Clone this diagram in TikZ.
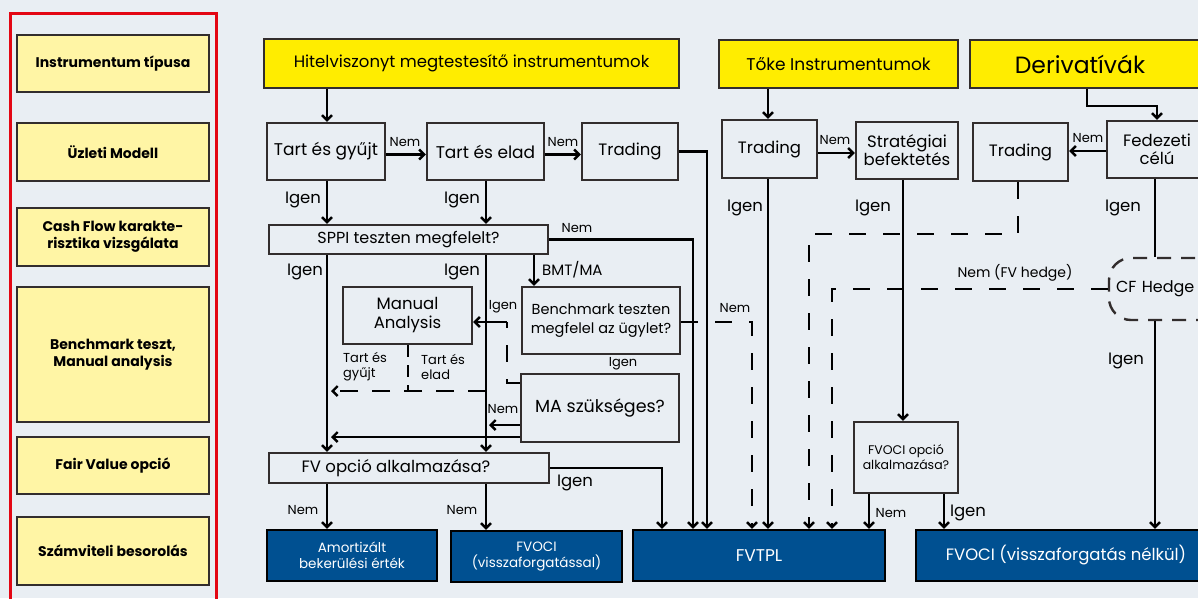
\documentclass[tikz,border=0pt]{standalone}
\usepackage{fontspec}
\setmainfont{Poppins}
\usetikzlibrary{arrows.meta,calc}
\definecolor{bg}{RGB}{233,238,243}
\definecolor{bdr}{RGB}{50,45,45}
\definecolor{yel}{RGB}{255,237,0}
\definecolor{pyel}{RGB}{255,245,165}
\definecolor{dblue}{RGB}{0,80,145}
\definecolor{fred}{RGB}{227,6,19}
\tikzset{
  box/.style={draw=bdr, line width=2.4pt, inner sep=0pt, align=center, font=\fontsize{16}{18}\selectfont},
  ybox/.style={box, fill=yel},
  lbox/.style={box, fill=pyel, font=\fontsize{14}{17}\selectfont\bfseries},
  bbox/.style={draw=black, line width=2.4pt, inner sep=0pt, align=center, fill=dblue, text=white, font=\fontsize{13.5}{16}\selectfont},
  conn/.style={line width=2.4pt, draw=black},
  arr/.style={conn, -{Straight Barb[length=5pt,width=10pt]}},
  dsh/.style={dash pattern=on 17pt off 17pt},
  lblig/.style={inner sep=0pt, font=\fontsize{16.5}{19}\selectfont},
  lblsm/.style={inner sep=0pt, font=\fontsize{13}{15}\selectfont, align=left},
}
\begin{document}
\begin{tikzpicture}[x=1pt,y=-1pt]
\fill[bg] (0,0) rectangle (1198,598);
\useasboundingbox (0,0) rectangle (1198,598);
% left frame
\draw[fred, line width=3pt] (10,13) rectangle (216,640);
\node[lbox, minimum width=192pt, minimum height=57pt] (L1) at (113,63.5) {Instrumentum típusa};
\node[lbox, minimum width=192pt, minimum height=58pt] (L2) at (113,152) {Üzleti Modell};
\node[lbox, minimum width=192pt, minimum height=58pt] (L3) at (113,237) {Cash Flow karakte-\\risztika vizsgálata};
\node[lbox, minimum width=192pt, minimum height=135pt] (L4) at (113,354.5) {Benchmark teszt,\\Manual analysis};
\node[lbox, minimum width=192pt, minimum height=57pt] (L5) at (113,465.5) {Fair Value opció};
\node[lbox, minimum width=192pt, minimum height=68pt] (L6) at (113,551) {Számviteli besorolás};

% column / row helper coordinates
\foreach \c in {327,331,408,486,489,507,534,662,693,707,752,768,809,832,869,903,944,1018,1087,1155,1157}{\coordinate (x\c) at (\c,0);}
\foreach \r in {106,151,153,234,322,383,391,425,437}{\coordinate (y\r) at (0,\r);}

% top boxes
\node[ybox, minimum width=415pt, minimum height=49pt, font=\fontsize{16.5}{18}\selectfont] (hitel) at (471.5,63.5) {Hitelviszonyt megtestesítő instrumentumok};
\node[ybox, minimum width=239pt, minimum height=48pt, font=\fontsize{17}{18}\selectfont] (toke) at (838.5,64) {Tőke Instrumentumok};
\node[ybox, minimum width=260pt, minimum height=48pt, font=\fontsize{23.5}{26}\selectfont] (deriv) at (1100,64) {\kern-40pt Derivatívák};

% second row
\node[box, minimum width=118pt, minimum height=57pt, font=\fontsize{17}{18}\selectfont] (tgy) at (326,151.5) {Tart és gyűjt};
\node[box, minimum width=117pt, minimum height=57pt, font=\fontsize{17}{18}\selectfont] (tel) at (485.5,151.5) {Tart és elad};
\node[box, minimum width=96pt, minimum height=57pt, font=\fontsize{16.5}{18}\selectfont] (trd1) at (630,151.5) {Trading};
\node[box, minimum width=95pt, minimum height=58pt, font=\fontsize{16.5}{18}\selectfont] (trd2) at (769.5,149) {Trading};
\node[box, minimum width=102pt, minimum height=57pt, font=\fontsize{16.5}{18}\selectfont] (strat) at (907,150.5) {Stratégiai\\befektetés};
\node[box, minimum width=95pt, minimum height=58pt, font=\fontsize{16.5}{18}\selectfont] (trd3) at (1020.5,152) {Trading};
\node[box, minimum width=100pt, minimum height=57pt, font=\fontsize{16.5}{18}\selectfont] (fed) at (1157,149.5) {Fedezeti\\célú};

% middle
\node[box, minimum width=279pt, minimum height=29pt, font=\fontsize{16}{18}\selectfont] (sppi) at (408.5,239.5) {SPPI teszten megfelelt?};
\node[box, minimum width=129pt, minimum height=57pt, font=\fontsize{16.5}{19}\selectfont] (MAn) at (407.5,315.5) {Manual\\Analysis};
\node[box, minimum width=158pt, minimum height=67pt, font=\fontsize{14.5}{19}\selectfont] (bench) at (601,320.5) {Benchmark teszten\\megfelel az ügylet?};
\node[box, minimum width=158pt, minimum height=68pt, font=\fontsize{17.5}{19}\selectfont] (mas) at (600,408) {MA szükséges?};
\node[box, minimum width=280pt, minimum height=30pt, font=\fontsize{16.5}{18}\selectfont] (fvo) at (409,468) {\kern-26pt FV opció alkalmazása?};
\node[box, minimum width=104pt, minimum height=71pt, font=\fontsize{12.5}{15}\selectfont] (fvop) at (906,457.5) {FVOCI opció\\alkalmazása?};
\node[box, dashed, dash pattern=on 14pt off 10pt, rounded corners=22pt, minimum height=62pt, text width=118pt, inner xsep=7pt, align=left, font=\fontsize{16}{19}\selectfont] (cfh) at (1175,289) {CF Hedge};

% bottom
\node[bbox, minimum width=170pt, minimum height=51pt] (amort) at (352,555.5) {Amortizált\\bekerülési érték};
\node[bbox, minimum width=171pt, minimum height=51pt] (fvoci1) at (536.5,556.5) {FVOCI\\(visszaforgatással)};
\node[bbox, minimum width=252pt, minimum height=51pt, font=\fontsize{17}{18}\selectfont] (fvtpl) at (759,555.5) {FVTPL};
\node[bbox, minimum width=300pt, minimum height=51pt, font=\fontsize{16.5}{18}\selectfont] (fvoci2) at (1066,555.5) {FVOCI (visszaforgatás nélkül)};

% connectors: debt instruments
\draw[arr] (hitel.south -| x327) -- (tgy.north -| x327);
\draw[arr] ([yshift=-3pt]tgy.east) -- ([yshift=-3pt]tel.west);
\draw[arr] ([yshift=-3pt]tel.east) -- ([yshift=-3pt]trd1.west);
\draw[arr] (trd1.east) -| (fvtpl.north -| x707);
\draw[arr] (tgy.south -| x327) -- (sppi.north -| x327);
\draw[arr] (tel.south -| x486) -- (sppi.north -| x486);
\draw[arr] (sppi.east) -| (fvtpl.north -| x693);
\draw[arr] (sppi.south -| x327) -- (fvo.north -| x327);
\draw[arr] (sppi.south -| x486) -- (fvo.north -| x486);
\draw[arr] (sppi.south -| x534) -- (bench.north -| x534);
\draw[arr,dsh] (bench.east |- y322) -| (fvtpl.north -| x752);
\coordinate (mabend) at (507,322);
\draw[conn,dsh] (mas.west |- y383) -| (mabend);
\draw[arr] (mabend) -- (MAn.east |- mabend);
\draw[arr] (mas.west |- y425) -- (x489 |- y425);
\draw[arr] (mas.west |- y437) -- (x331 |- y437);
\draw[conn,dash pattern=on 12pt off 8pt] (MAn.south -| x408) -- (x408 |- y391);
\draw[arr,dash pattern=on 18pt off 14pt] (x486 |- y391) -- (x331 |- y391);
\draw[arr] (fvo.east) -| (fvtpl.north -| x662);
\draw[arr] (fvo.south -| x327) -- (amort.north -| x327);
\draw[arr] (fvo.south -| x486) -- (fvoci1.north -| x486);
% equity
\draw[arr] (toke.south -| x768) -- (trd2.north -| x768);
\draw[arr] (trd2.east |- y153) -- (strat.west |- y153);
\draw[arr] (trd2.south -| x768) -- (fvtpl.north -| x768);
\draw[arr] (strat.south -| x903) -- (fvop.north -| x903);
\draw[arr] (fvop.south -| x869) -- (fvtpl.north -| x869);
\draw[arr] (fvop.south -| x944) -- (fvoci2.north -| x944);
% derivatives
\draw[arr] (deriv.south -| x1087) -- (x1087 |- y106) -| (fed.north -| x1157);
\draw[arr] (fed.west |- y151) -- (trd3.east |- y151);
\draw[conn] (fed.south -| x1155) -- (cfh.north -| x1155);
\draw[arr] (cfh.south -| x1155) -- (fvoci2.north -| x1155);
\draw[arr,dsh] (trd3.south -| x1018) |- (x809 |- y234) -- (fvtpl.north -| x809);
\draw[arr,dsh] (cfh.west) -| (fvtpl.north -| x832);

% labels
\node[lblsm] (n1) at (405,142) {Nem};
\node[lblsm] (n2) at (563,142) {Nem};
\node[lblsm] (n3) at (577,228) {Nem};
\node[lblsm] (n4) at (735,308) {Nem};
\node[lblsm] (n5) at (835,140) {Nem};
\node[lblsm] (n6) at (1088,138) {Nem};
\node[lblsm] (n7) at (503,409) {Nem};
\node[lblsm] (n8) at (891,513) {Nem};
\node[lblsm] (n9) at (303,510) {Nem};
\node[lblsm] (n10) at (462,510) {Nem};
\node[lblsm] (i1) at (503,307) {Igen};
\node[lblsm] (i2) at (623,364) {Igen};
\node[lblsm, anchor=west, font=\fontsize{15}{17}\selectfont] (bmt) at (542,270) {BMT/MA};
\node[lblsm, font=\fontsize{14}{17}\selectfont] (fvh) at (1015,273) {Nem (FV hedge)};
\node[lblsm, anchor=west] (tg) at (343,367) {Tart és\\gyűjt};
\node[lblsm, anchor=west] (te) at (421,367) {Tart és\\elad};
\node[lblig] (g1) at (303,200) {Igen};
\node[lblig] (g2) at (462,200) {Igen};
\node[lblig] (g3) at (305,272) {Igen};
\node[lblig] (g4) at (462,272) {Igen};
\node[lblig] (g5) at (745,208) {Igen};
\node[lblig] (g6) at (873,208) {Igen};
\node[lblig] (g7) at (1123,208) {Igen};
\node[lblig] (g8) at (1126,361) {Igen};
\node[lblig] (g9) at (575,483) {Igen};
\node[lblig] (g10) at (968,513) {Igen};
\end{tikzpicture}
\end{document}
